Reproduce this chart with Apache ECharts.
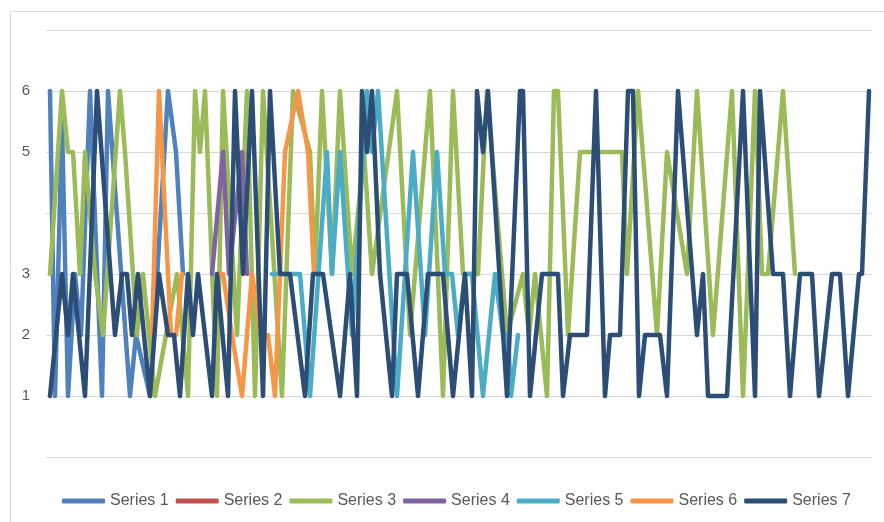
<!DOCTYPE html>
<html>
<head>
<meta charset="utf-8">
<script src="https://cdn.jsdelivr.net/npm/echarts@6/dist/echarts.min.js"></script>
<style>
  html, body { margin: 0; padding: 0; background: #fff; }
  #chart { width: 884px; height: 522px; }
</style>
</head>
<body>
<div id="chart"></div>
<script>
// sequence position (0..826) and value pairs
const seriesNames = ['Series 1', 'Series 2', 'Series 3', 'Series 4', 'Series 5', 'Series 6', 'Series 7'];
const seriesColors = ['#4F81BD', '#C0504D', '#9BBB59', '#8064A2', '#4BACC6', '#F79646', '#2C4D75'];
const yLabels = [1, 2, 3, 5, 6];

const s1 = [[4,6],[9,1],[16,5.5],[22,1],[29,3],[35,2],[44,6],[56,1],[62,6],[84,1],[90,2],[104,1],[122,6],[130,5],[137,3]];
const s2 = [];
const s3 = [[4,3],[16,6],[22,5],[27,5],[34,3],[39,5],[49,3],[57,2],[74,6],[79,5],[91,2],[97,3],[109,1],[120,2],[131,3],
  [142,1],[149,6],[154,5],[159,6],[171,1],[177,6],[191,2],[201,6],[209,1],[217,6],[236,1],[247,6],[264,5],[269,3],
  [276,6],[286,3],[294,6],[306,3],[318,5],[326,3],[351,6],[364,2],[384,6],[397,1],[407,6],[417,3],[432,3],[441,6],
  [461,2],[477,3],[483,2],[489,3],[501,1],[508,6],[512,6],[522,2],[534,5],[576,5],[581,3],[592,6],[611,2],[621,5],
  [641,3],[651,6],[667,2],[686,6],[697,1],[709,6],[716,3],[722,3],[737,6],[749,3]];
const s4 = [[166,3],[177,5],[183,3],[196,5],[201,3]];
const s5 = [[226,3],[231,3],[254,3],[264,1],[281,5],[286,3],[294,5],[306,2],[321,6],[326,5],[332,6],[351,1],[367,5],
  [379,2],[391,5],[399,3],[406,3],[412,2],[419,3],[426,3],[437,1],[449,3],[457,2],[462,2],[465,1],[472,2]];
const s6 = [[106,2],[113,6],[125,2],[130,2],[136,3],[140,null],[172,3],[177,3],[186,2],[196,1],[206,3],[215,2],[222,2],
  [229,1],[239,5],[252,6],[262,5],[268,3]];
const s7 = [[4,1],[16,3],[22,2],[27,3],[39,1],[51,6],[69,2],[76,3],[81,3],[86,2],[92,3],[104,1],[113,3],[122,2],[128,2],
  [134,1],[142,3],[147,2],[152,3],[166,1],[171,3],[182,1],[189,6],[197,3],[206,6],[217,1],[224,6],[234,3],[244,3],
  [259,1],[267,3],[277,3],[294,1],[304,3],[311,1],[316,6],[321,5],[326,6],[334,3],[346,1],[351,3],[361,3],[372,1],
  [382,3],[397,3],[407,1],[419,3],[426,1],[431,6],[437,5],[442,6],[461,1],[474,6],[477,6],[484,1],[496,3],[512,3],
  [517,1],[524,2],[541,2],[550,6],[552,6],[559,1],[564,2],[574,2],[582,6],[587,6],[593,1],[599,2],[614,2],[621,1],
  [632,6],[651,2],[657,3],[662,1],[681,1],[697,6],[709,1],[714,6],[727,3],[737,3],[744,1],[754,3],[766,3],[773,1],
  [786,3],[794,3],[802,1],[813,3],[816,3],[823,6]];

const allData = [s1, s2, s3, s4, s5, s6, s7];

const chart = echarts.init(document.getElementById('chart'));

const option = {
  animation: false,
  backgroundColor: '#fff',
  textStyle: { fontFamily: '"Liberation Sans", Arial, sans-serif' },
  graphic: [{
    type: 'rect',
    left: 8, top: 9,
    shape: { width: 880, height: 520 },
    style: { fill: 'none', stroke: '#d9d9d9', lineWidth: 1 },
    silent: true
  }],
  grid: { left: 46, right: 12, top: 30, bottom: 65 },
  legend: {
    top: 488,
    left: 57,
    icon: 'roundRect',
    itemWidth: 43,
    itemHeight: 5,
    itemGap: 7,
    textStyle: { color: '#595959', fontSize: 16 },
    data: seriesNames
  },
  xAxis: {
    type: 'value',
    min: 0,
    max: 826,
    show: false
  },
  yAxis: {
    type: 'value',
    min: 0,
    max: 7,
    interval: 1,
    axisLine: { show: false },
    axisTick: { show: false },
    axisLabel: {
      color: '#595959',
      fontSize: 15,
      margin: 16,
      formatter: v => (yLabels.includes(v) ? String(v) : '')
    },
    splitLine: { lineStyle: { color: '#d9d9d9', width: 1 } }
  },
  series: seriesNames.map((name, i) => ({
    name,
    type: 'line',
    data: allData[i],
    showSymbol: false,
    symbol: 'none',
    connectNulls: false,
    color: seriesColors[i],
    lineStyle: { width: 4.5, color: seriesColors[i], cap: 'round', join: 'round' }
  }))
};

chart.setOption(option);
</script>
</body>
</html>
